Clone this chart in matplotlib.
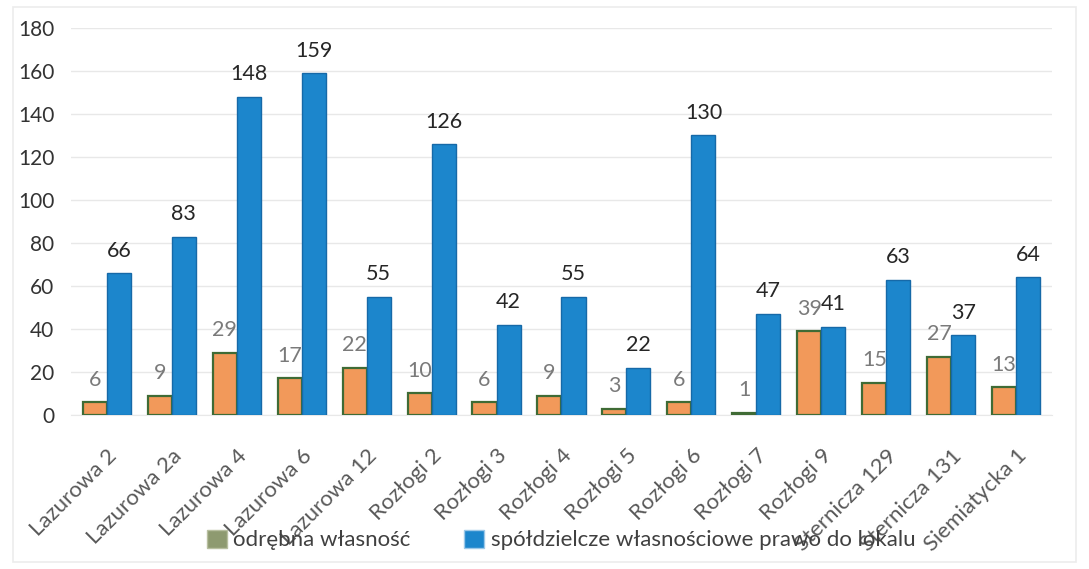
import numpy as np
import matplotlib
matplotlib.use("Agg")
import matplotlib.pyplot as plt
from matplotlib.patches import Patch, Rectangle

plt.rcParams['font.family'] = ['Lato', 'DejaVu Sans']

# Data
buildings = ["Lazurowa 2", "Lazurowa 2a", "Lazurowa 4", "Lazurowa 6", "Lazurowa 12",
             "Rozłogi 2", "Rozłogi 3", "Rozłogi 4", "Rozłogi 5", "Rozłogi 6",
             "Rozłogi 7", "Rozłogi 9", "Sternicza 129", "Sternicza 131", "Siemiatycka 1"]
odrebna = [6, 9, 29, 17, 22, 10, 6, 9, 3, 6, 1, 39, 15, 27, 13]
spoldzielcze = [66, 83, 148, 159, 55, 126, 42, 55, 22, 130, 47, 41, 63, 37, 64]
series_names = ["odrębna własność", "spółdzielcze własnościowe prawo do lokalu"]
yticks = [0, 20, 40, 60, 80, 100, 120, 140, 160, 180]

fig = plt.figure(figsize=(10.89, 5.69), dpi=100)
ax = fig.add_axes([0.0652, 0.2707, 0.9008, 0.6801])

x = np.arange(len(buildings))
w = 0.37

b1 = ax.bar(x - w / 2, odrebna, w, color="#f2995a", edgecolor="#3f6b35", linewidth=1.6, zorder=3)
b2 = ax.bar(x + w / 2, spoldzielcze, w, color="#1c86cc", edgecolor="#1669a8", linewidth=1.0, zorder=3)

# data labels
for xi, v in zip(x, odrebna):
    ax.annotate(str(v), (xi - w / 2, v), xytext=(0, 9), textcoords="offset points",
                ha="center", va="bottom", fontsize=15.5, color="#7a7a7a")
for xi, v in zip(x, spoldzielcze):
    ax.annotate(str(v), (xi + w / 2, v), xytext=(0, 9), textcoords="offset points",
                ha="center", va="bottom", fontsize=15.5, color="#262626")

ax.set_xlim(-0.55, len(buildings) - 0.45)
ax.set_ylim(0, 180)
ax.set_yticks(yticks)
ax.tick_params(axis="y", length=0, labelsize=15, labelcolor="#333333", pad=12)
ax.set_xticks(x)
ax.set_xticklabels(buildings, rotation=45, ha="right", rotation_mode="anchor",
                   fontsize=16, color="#595959")
ax.tick_params(axis="x", length=0, pad=22)

ax.grid(axis="y", color="#e8e8e8", linewidth=1.0, zorder=0)
for s in ["top", "right", "left"]:
    ax.spines[s].set_visible(False)
ax.spines["bottom"].set_color("#e8e8e8")

handles = [Patch(facecolor="#8e9a70", edgecolor="#b8bfa0"),
           Patch(facecolor="#1c86cc", edgecolor="#9cc8e8")]
fig.legend(handles, series_names, loc="center", bbox_to_anchor=(0.515, 1 - 540 / 569),
           ncol=2, frameon=False, fontsize=16, handlelength=0.9, handleheight=0.9,
           handletextpad=0.3, columnspacing=2.4, labelcolor="#404040")

# faint chart border
fig.patches.append(Rectangle((0.012, 0.012), 0.976, 0.976, transform=fig.transFigure,
                             fill=False, edgecolor="#ececec", linewidth=1.2))

fig.savefig("out.png", dpi=100)
